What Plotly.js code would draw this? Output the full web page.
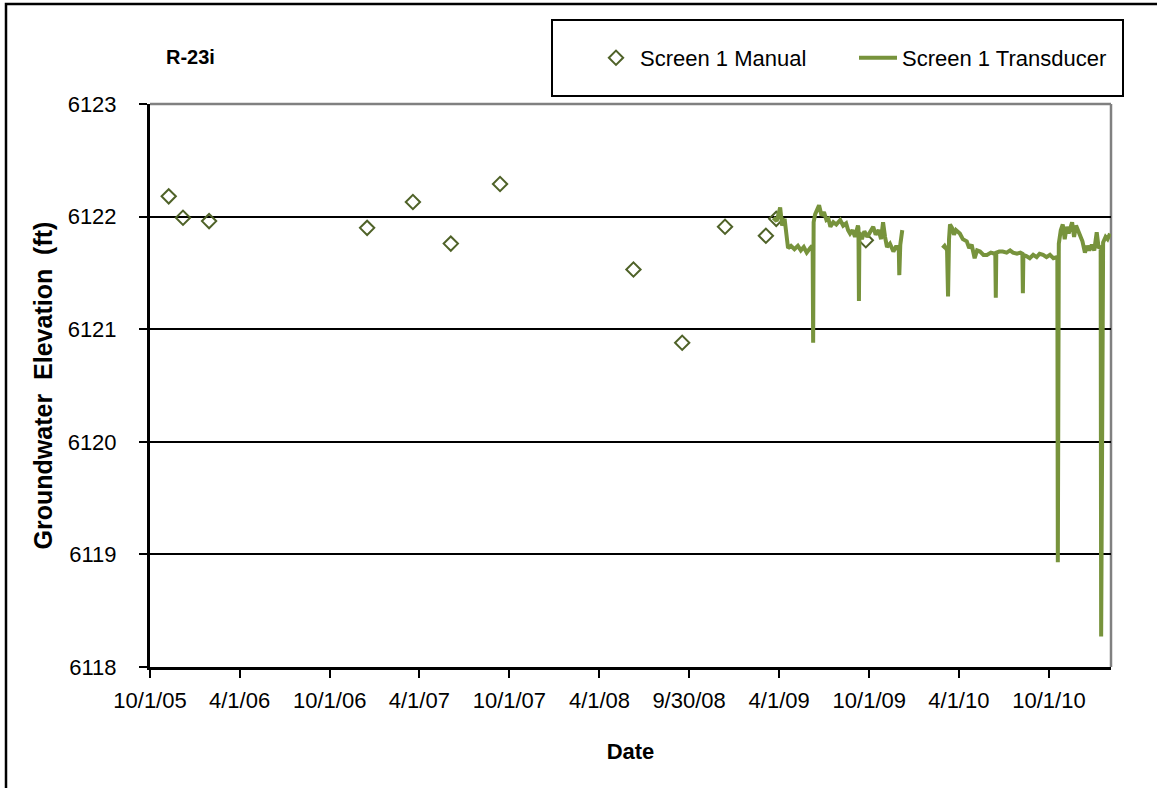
<!DOCTYPE html>
<html>
<head>
<meta charset="utf-8">
<script src="https://cdn.plot.ly/plotly-3.0.1.min.js"></script>
<style>
  html, body { margin: 0; padding: 0; background: #ffffff; }
  #chart { width: 1157px; height: 788px; }
</style>
</head>
<body>
<div id="chart"></div>
<script>
// ---- Data ----
const manualDates = ['2005-11-08','2005-12-07','2006-01-29','2006-12-16','2007-03-19','2007-06-04','2007-09-12',
                     '2008-06-09','2008-09-16','2008-12-12','2009-03-05','2009-03-26','2009-09-24'];
const manualValues = [6122.18, 6121.99, 6121.96, 6121.90, 6122.13, 6121.76, 6122.29,
                      6121.53, 6120.88, 6121.91, 6121.83, 6121.98, 6121.79];

const transducerDates = [
  '2009-03-20','2009-03-27','2009-04-03','2009-04-07','2009-04-12','2009-04-16','2009-04-19','2009-04-25',
  '2009-05-02','2009-05-09','2009-05-15','2009-05-21','2009-05-27','2009-06-03','2009-06-07','2009-06-08',
  '2009-06-09','2009-06-10','2009-06-13','2009-06-17','2009-06-21','2009-06-26','2009-07-01','2009-07-06',
  '2009-07-10','2009-07-14','2009-07-20','2009-07-26','2009-08-03','2009-08-09','2009-08-15','2009-08-19',
  '2009-08-23','2009-08-28','2009-09-02','2009-09-08','2009-09-09','2009-09-10','2009-09-11','2009-09-16',
  '2009-09-21','2009-09-27','2009-10-03','2009-10-09','2009-10-14','2009-10-20','2009-10-25','2009-10-29',
  '2009-11-02','2009-11-06','2009-11-12','2009-11-19','2009-11-25','2009-11-30','2009-12-01','2009-12-03',
  '2009-12-07','2010-01-15',
  '2010-02-27','2010-03-03','2010-03-08','2010-03-10','2010-03-12','2010-03-14','2010-03-18','2010-03-22',
  '2010-03-26','2010-04-03','2010-04-09','2010-04-17','2010-04-22','2010-04-27','2010-05-03','2010-05-08',
  '2010-05-14','2010-05-21','2010-05-28','2010-06-05','2010-06-13','2010-06-14','2010-06-15','2010-06-16',
  '2010-06-22','2010-06-29','2010-07-07','2010-07-14','2010-07-20','2010-07-28','2010-08-04','2010-08-08',
  '2010-08-09','2010-08-10','2010-08-16','2010-08-23','2010-08-30','2010-09-06','2010-09-12','2010-09-19',
  '2010-09-26','2010-10-03','2010-10-10','2010-10-17','2010-10-18','2010-10-19','2010-10-21','2010-10-25',
  '2010-10-29','2010-11-02','2010-11-06','2010-11-10','2010-11-17','2010-11-21','2010-11-25','2010-11-29',
  '2010-12-03','2010-12-08','2010-12-13','2010-12-18','2010-12-22','2010-12-27','2011-01-01','2011-01-06',
  '2011-01-10','2011-01-14','2011-01-15','2011-01-17','2011-01-19','2011-01-24','2011-01-28','2011-02-02'
];
const transducerValues = [
  6121.99, 6121.96, 6122.08, 6121.92, 6121.98, 6121.80, 6121.72, 6121.74,
  6121.71, 6121.74, 6121.70, 6121.73, 6121.68, 6121.72, 6121.74, 6121.70,
  6120.88, 6121.95, 6122.02, 6122.06, 6122.10, 6122.01, 6122.04, 6121.97,
  6121.98, 6121.91, 6121.95, 6121.93, 6121.97, 6121.92, 6121.94, 6121.88,
  6121.85, 6121.88, 6121.82, 6121.92, 6121.90, 6121.25, 6121.86, 6121.80,
  6121.87, 6121.82, 6121.86, 6121.91, 6121.84, 6121.88, 6121.80, 6121.95,
  6121.82, 6121.73, 6121.76, 6121.69, 6121.74, 6121.70, 6121.48, 6121.75,
  6121.88, null,
  6121.72, 6121.74, 6121.70, 6121.29, 6121.80, 6121.93, 6121.90, 6121.84,
  6121.88, 6121.85, 6121.80, 6121.78, 6121.72, 6121.75, 6121.63, 6121.70,
  6121.69, 6121.66, 6121.66, 6121.68, 6121.67, 6121.66, 6121.28, 6121.68,
  6121.69, 6121.69, 6121.68, 6121.70, 6121.68, 6121.67, 6121.68, 6121.67,
  6121.32, 6121.66, 6121.65, 6121.63, 6121.66, 6121.64, 6121.67, 6121.66,
  6121.64, 6121.66, 6121.63, 6121.64, 6121.63, 6118.93, 6121.76, 6121.88,
  6121.93, 6121.80, 6121.91, 6121.85, 6121.95, 6121.82, 6121.92, 6121.88,
  6121.84, 6121.78, 6121.68, 6121.74, 6121.70, 6121.75, 6121.70, 6121.86,
  6121.72, 6121.74, 6118.27, 6121.70, 6121.77, 6121.82, 6121.80, 6121.85
];

const xTickDates = ['2005-10-01','2006-04-01','2006-10-01','2007-04-01','2007-10-01','2008-04-01',
                    '2008-09-30','2009-04-01','2009-10-01','2010-04-01','2010-10-01'];
const xTickLabels = ['10/1/05','4/1/06','10/1/06','4/1/07','10/1/07','4/1/08',
                     '9/30/08','4/1/09','10/1/09','4/1/10','10/1/10'];
const yTickValues = [6118, 6119, 6120, 6121, 6122, 6123];
const yTickLabels = ['6118','6119','6120','6121','6122','6123'];

// ---- Layout geometry (pixels) ----
const W = 1157, H = 788;
const L = 150, R = 1111, T = 104, B = 667;
const pw = R - L, ph = B - T;
const px = x => (x - L) / pw;
const py = y => (B - y) / ph;

const FONT = 'Liberation Sans, Arial, sans-serif';

const traces = [
  {
    type: 'scatter', mode: 'markers', name: 'Screen 1 Manual',
    x: manualDates, y: manualValues,
    marker: { symbol: 'diamond-open', size: 11, color: '#4F6228', line: { width: 2, color: '#4F6228' } },
    cliponaxis: false
  },
  {
    type: 'scatter', mode: 'lines', name: 'Screen 1 Transducer',
    x: transducerDates, y: transducerValues,
    connectgaps: false,
    line: { color: '#77933C', width: 4 }
  }
];

const layout = {
  width: W, height: H,
  margin: { l: L, r: W - R, t: T, b: H - B, pad: 0 },
  paper_bgcolor: '#ffffff', plot_bgcolor: '#ffffff',
  font: { family: FONT, size: 22, color: '#000000' },
  showlegend: true,
  legend: {
    orientation: 'h',
    x: px(592), xanchor: 'left',
    y: py(58), yanchor: 'middle',
    bgcolor: 'rgba(0,0,0,0)', borderwidth: 0,
    font: { family: FONT, size: 22, color: '#000000' },
    entrywidth: 209, entrywidthmode: 'pixels',
    itemwidth: 38
  },
  xaxis: {
    type: 'date',
    range: ['2005-10-01', '2011-02-04'],
    tickmode: 'array', tickvals: xTickDates, ticktext: xTickLabels,
    ticks: 'outside', ticklen: 8, tickwidth: 2, tickcolor: '#000000',
    showline: true, linecolor: '#000000', linewidth: 3,
    showgrid: false, zeroline: false,
    tickfont: { family: FONT, size: 22, color: '#000000' },
    ticklabelstandoff: 4,
    title: { text: '<b>Date</b>', font: { family: FONT, size: 22, color: '#000000' }, standoff: 32 },
    automargin: false
  },
  yaxis: {
    range: [6118, 6123],
    tickmode: 'array', tickvals: yTickValues, ticktext: yTickLabels,
    ticks: 'outside', ticklen: 8, tickwidth: 2, tickcolor: '#000000',
    showline: true, linecolor: '#000000', linewidth: 3,
    showgrid: true, gridcolor: '#000000', gridwidth: 2,
    zeroline: false,
    tickfont: { family: FONT, size: 22, color: '#000000' },
    ticklabelstandoff: 18,
    title: { text: '<b>Groundwater  Elevation  (ft)</b>', font: { family: FONT, size: 25, color: '#000000' }, standoff: 8 },
    automargin: false
  },
  shapes: [
    // plot-area border (top & right in gray)
    { type: 'line', xref: 'paper', yref: 'paper', x0: 0, x1: 1, y0: 1, y1: 1, line: { color: '#808080', width: 2.5 }, layer: 'below' },
    { type: 'line', xref: 'paper', yref: 'paper', x0: 1, x1: 1, y0: 0, y1: 1, line: { color: '#808080', width: 2.5 }, layer: 'below' },
    // outer chart frame
    { type: 'rect', xref: 'paper', yref: 'paper', x0: px(6), x1: px(1200), y0: py(900), y1: py(4), line: { color: '#000000', width: 2.5 }, fillcolor: 'rgba(0,0,0,0)' },
    // legend box
    { type: 'rect', xref: 'paper', yref: 'paper', x0: px(552), x1: px(1123), y0: py(96), y1: py(20), line: { color: '#000000', width: 2 }, fillcolor: 'rgba(0,0,0,0)' }
  ],
  annotations: [
    { text: '<b>R-23i</b>', xref: 'paper', yref: 'paper', x: px(164), y: py(57), xanchor: 'left', yanchor: 'middle',
      showarrow: false, font: { family: FONT, size: 20, color: '#000000' } }
  ]
};

Plotly.newPlot('chart', traces, layout, { displayModeBar: false, staticPlot: true });
</script>
</body>
</html>
